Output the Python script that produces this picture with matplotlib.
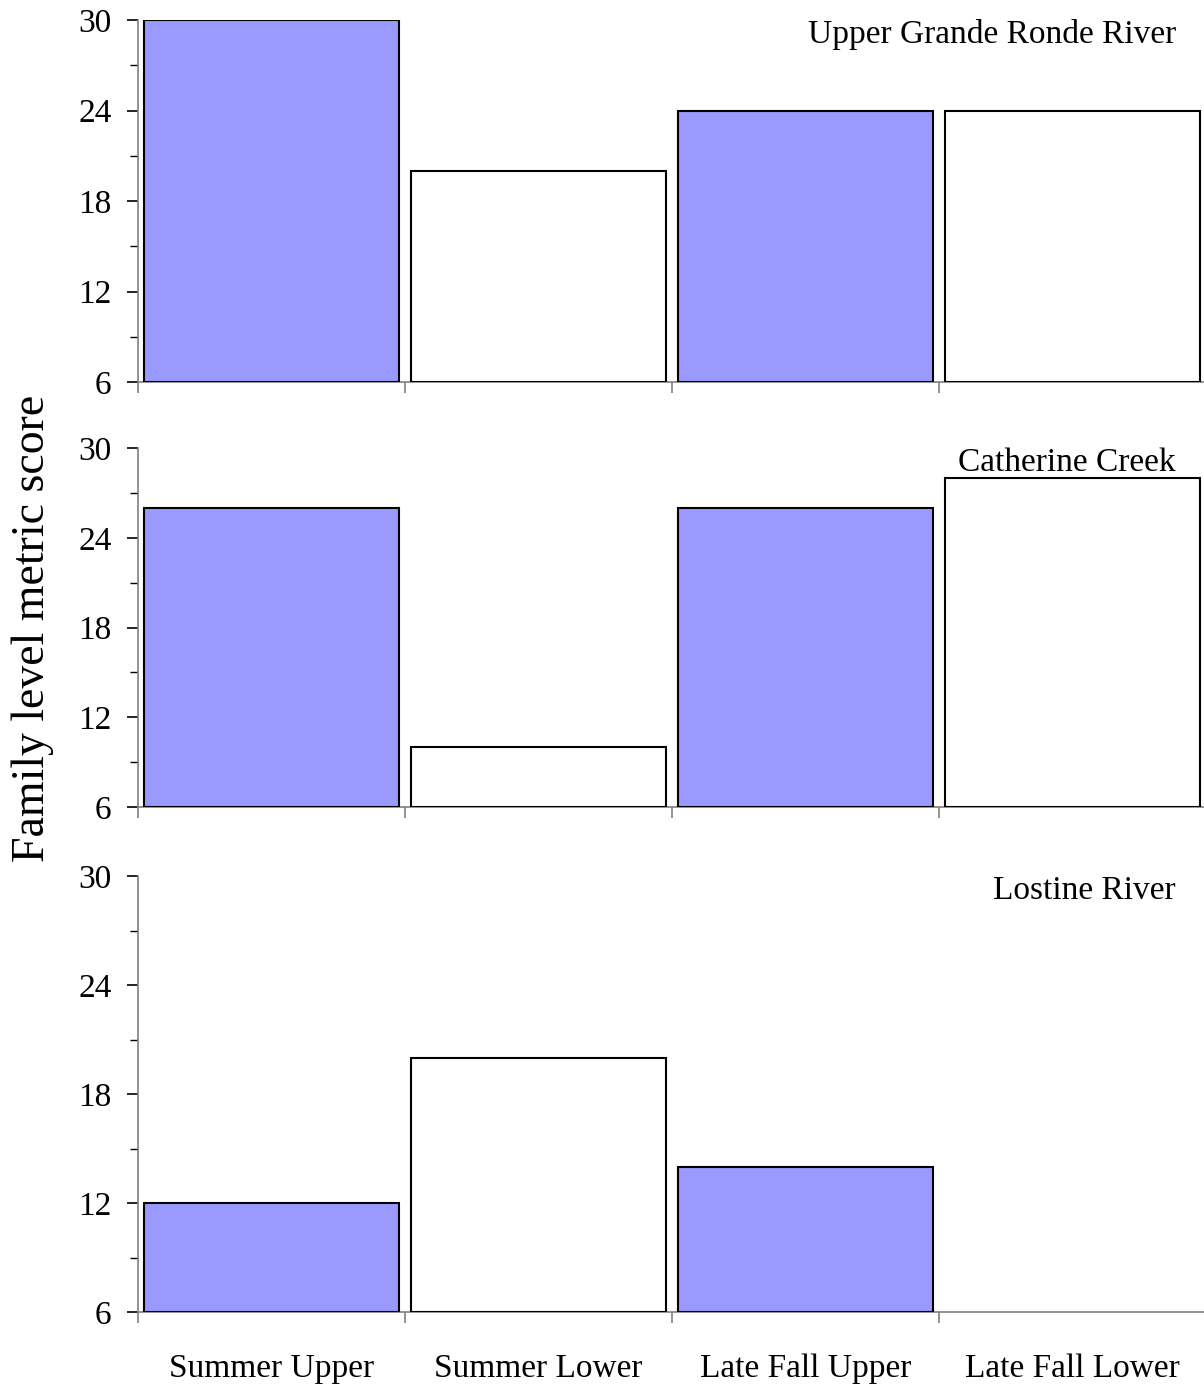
import numpy as np
import matplotlib
matplotlib.use("Agg")
import matplotlib.pyplot as plt
from matplotlib.ticker import MultipleLocator

plt.rcParams['font.family'] = ['Liberation Serif', 'DejaVu Serif']

categories = ["Summer Upper", "Summer Lower", "Late Fall Upper", "Late Fall Lower"]
sites = ["Upper Grande Ronde River", "Catherine Creek", "Lostine River"]
grande_ronde = [30, 20, 24, 24]
catherine = [26, 10, 26, 28]
lostine = [12, 20, 14, np.nan]
bar_colors = ["#9999ff", "#ffffff", "#9999ff", "#ffffff"]

W, H = 1204, 1389
fig = plt.figure(figsize=(W / 100, H / 100), dpi=100)

# panel boxes in pixels: (top, bottom)
boxes = [(20, 382), (448, 807), (876, 1312)]
left_px, right_px = 138, 1206
base = 6

for i, (site, vals, (top, bot)) in enumerate(zip(sites, [grande_ronde, catherine, lostine], boxes)):
    ax = fig.add_axes([left_px / W, 1 - bot / H, (right_px - left_px) / W, (bot - top) / H])
    x = np.arange(len(categories)) + 0.5
    heights = np.array(vals, dtype=float) - base
    ax.bar(x, heights, bottom=base, width=0.955, color=bar_colors,
           edgecolor="black", linewidth=1.5, zorder=3)
    ax.set_xlim(0, 4)
    ax.set_ylim(6, 30)
    ax.set_yticks([6, 12, 18, 24, 30])
    ax.yaxis.set_minor_locator(MultipleLocator(3))
    ax.tick_params(axis="y", which="major", length=8, width=1.2, labelsize=24, pad=11, color="black")
    ax.tick_params(axis="y", which="minor", length=6, width=1.0, color="black")
    ax.set_xticks([0, 1, 2, 3, 4])
    ax.set_xticklabels([])
    ax.tick_params(axis="x", which="major", length=8, width=1.2, color="#808080")
    for s in ["top", "right"]:
        ax.spines[s].set_visible(False)
    for s in ["left", "bottom"]:
        ax.spines[s].set_color("#808080")
        ax.spines[s].set_linewidth(1.2)
    if i == 2:
        ax.set_xticks(x, minor=True)
        ax.set_xticklabels(categories, minor=True)
        ax.tick_params(axis="x", which="minor", length=0, labelsize=24, pad=30)
    ax.text(0.972, 1 - 15 / (bot - top), site, transform=ax.transAxes,
            ha="right", va="center", fontsize=24)

fig.text(33 / W, 1 - 628 / H, "Family level metric score", rotation=90,
         ha="center", va="center", fontsize=33)

fig.savefig("out.png", dpi=100)
